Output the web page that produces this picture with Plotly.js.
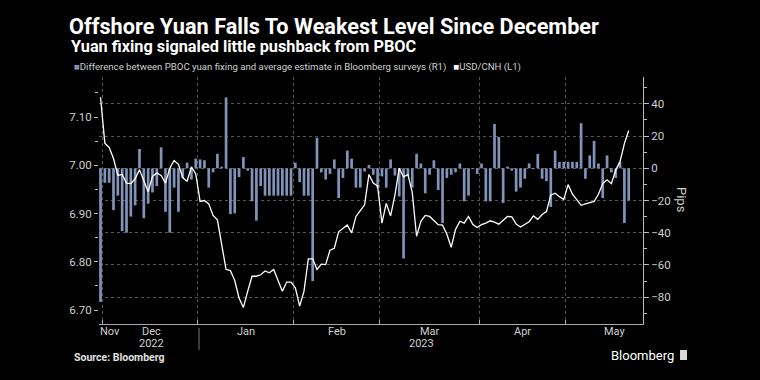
<!DOCTYPE html>
<html><head><meta charset="utf-8">
<script src="https://cdn.plot.ly/plotly-3.0.1.min.js"></script>
<style>html,body{margin:0;padding:0;background:#000;}#chart{width:760px;height:380px;}</style>
</head><body><div id="chart"></div>
<script>
const dates = [
'2022-11-30',
'2022-12-01','2022-12-02','2022-12-05','2022-12-06','2022-12-07','2022-12-08','2022-12-09','2022-12-12','2022-12-13','2022-12-14','2022-12-15','2022-12-16','2022-12-19','2022-12-20','2022-12-21','2022-12-22','2022-12-23','2022-12-26','2022-12-27','2022-12-28','2022-12-29','2022-12-30',
'2023-01-02','2023-01-03','2023-01-04','2023-01-05','2023-01-06','2023-01-09','2023-01-10','2023-01-11','2023-01-12','2023-01-13','2023-01-16','2023-01-17','2023-01-18','2023-01-19','2023-01-20','2023-01-23','2023-01-24','2023-01-25','2023-01-26','2023-01-27','2023-01-30','2023-01-31',
'2023-02-01','2023-02-02','2023-02-03','2023-02-06','2023-02-07','2023-02-08','2023-02-09','2023-02-10','2023-02-13','2023-02-14','2023-02-15','2023-02-16','2023-02-17','2023-02-20','2023-02-21','2023-02-22','2023-02-23','2023-02-24','2023-02-27','2023-02-28',
'2023-03-01','2023-03-02','2023-03-03','2023-03-06','2023-03-07','2023-03-08','2023-03-09','2023-03-10','2023-03-13','2023-03-14','2023-03-15','2023-03-16','2023-03-17','2023-03-20','2023-03-21','2023-03-22','2023-03-23','2023-03-24','2023-03-27','2023-03-28','2023-03-29','2023-03-30','2023-03-31',
'2023-04-03','2023-04-04','2023-04-05','2023-04-06','2023-04-07','2023-04-10','2023-04-11','2023-04-12','2023-04-13','2023-04-14','2023-04-17','2023-04-18','2023-04-19','2023-04-20','2023-04-21','2023-04-24','2023-04-25','2023-04-26','2023-04-27','2023-04-28',
'2023-05-01','2023-05-02','2023-05-03','2023-05-04','2023-05-05','2023-05-08','2023-05-09','2023-05-10','2023-05-11','2023-05-12','2023-05-15','2023-05-16','2023-05-17','2023-05-18','2023-05-19'
];

// Difference between PBOC fixing and survey estimate, pips (right axis)
const fixingDiffPips = [
-83, -9, -9, -26, -17, -39, -40, -30, -23, 12,
-31, -22, -15, -11, 13, -27, -40, -12, -27, -6,
3.5, -7, 6, 5.5, 5, -12, -2.5, 9, 1, 44,
-28.5, -28, -5.5, 7, -1.5, -20.5, -32.5, -11, -17, -17,
-17, -17, -17, -17, -17, 3.5, -8.5, -17, -17, -70,
19, -2.5, -7, -3.5, 5.5, -18.5, -6, 11, 6, -12,
-12, -2, 2, -4, -12, -5, -12, 5.5, -4.5, -17.5,
-56, -5, -12, 9, 3, -15.5, -4, 5, -13.5, -34,
-6, -4, -2.5, 3, -20.5, -17, -0.5, -3.5, 3, -20.5,
-20.5, 27.5, 19.5, -21.5, 1, -1.5, -14.5, -12, -6.5, 3,
-0.5, 9, -6.5, -8, -24, 11, 4, 4, 4, 4,
4, 28, -6.5, 8, 17, 3, -18.5, 8, -2.5, -6,
4, -34, -20
];

// USD/CNH (left axis)
const usdCnh = [
7.141, 7.046, 7.037, 7.014, 6.979, 6.981, 6.963, 6.962, 6.972, 6.991,
6.968, 6.945, 6.977, 6.984, 6.979, 6.963, 6.994, 7.010, 7.002, 6.974,
6.967, 6.997, 6.982, 6.925, 6.927, 6.920, 6.896, 6.887, 6.835, 6.784,
6.782, 6.761, 6.725, 6.705, 6.739, 6.770, 6.770, 6.773, 6.781, 6.777,
6.784, 6.763, 6.739, 6.758, 6.758, 6.746, 6.708, 6.739, 6.806, 6.806,
6.784, 6.795, 6.794, 6.824, 6.828, 6.862, 6.869, 6.876, 6.860, 6.894,
6.906, 6.918, 6.981, 6.963, 6.957, 6.880, 6.921, 6.895, 6.938, 6.994,
6.976, 6.981, 6.944, 6.853, 6.884, 6.896, 6.894, 6.885, 6.877, 6.876,
6.857, 6.830, 6.867, 6.884, 6.880, 6.894, 6.877, 6.871, 6.877, 6.880,
6.885, 6.882, 6.878, 6.886, 6.894, 6.893, 6.878, 6.872, 6.878, 6.883,
6.895, 6.888, 6.898, 6.904, 6.938, 6.942, 6.935, 6.929, 6.960, 6.940,
6.929, 6.917, 6.920, 6.922, 6.925, 6.940, 6.962, 6.970, 6.962, 6.990,
7.008, 7.045, 7.072
];

const monthNames = ['Nov', 'Dec', 'Jan', 'Feb', 'Mar', 'Apr', 'May'];
const yearNames = ['2022', '2023'];
const pipsTicks = [-80, -60, -40, -20, 0, 20, 40];
const cnhTicks = [6.7, 6.8, 6.9, 7.0, 7.1];
const seriesNames = ['Difference between PBOC yuan fixing and average estimate in Bloomberg surveys (R1)', 'USD/CNH (L1)'];
const titleText = 'Offshore Yuan Falls To Weakest Level Since December';
const subtitleText = 'Yuan fixing signaled little pushback from PBOC';
const sourceText = 'Source: Bloomberg';

// ---- layout geometry (pixels) ----
const L = 99, R = 643, T = 77, B = 324;
const px = x => (x - L) / (R - L);
const py = y => (B - y) / (B - T);
const FONT = 'Roboto, "Liberation Sans", sans-serif';
const barColor = '#8094b9';
const txt = '#cfcfcf';

const monthLabelPx = [110, 151, 246, 337, 430, 522, 615];
const yearLabelPx = [151, 421];

const annotations = [];
monthNames.forEach((m, i) => annotations.push({
  xref: 'paper', yref: 'paper', x: px(monthLabelPx[i]), y: py(331), text: m,
  showarrow: false, xanchor: 'center', yanchor: 'middle', font: {family: FONT, size: 11, color: txt}
}));
yearNames.forEach((yv, i) => annotations.push({
  xref: 'paper', yref: 'paper', x: px(yearLabelPx[i]), y: py(343), text: yv,
  showarrow: false, xanchor: 'center', yanchor: 'middle', font: {family: FONT, size: 11, color: txt}
}));
annotations.push({
  xref: 'paper', yref: 'paper', x: px(69), y: py(47), text: '<b>' + subtitleText + '</b>',
  showarrow: false, xanchor: 'left', yanchor: 'middle', font: {family: FONT, size: 16.3, color: '#ffffff'}
});
annotations.push({
  xref: 'paper', yref: 'paper', x: px(72), y: py(67),
  text: '<span style="color:' + barColor + '">■</span>' + seriesNames[0] +
        '   <span style="color:#ffffff">■</span>' + seriesNames[1],
  showarrow: false, xanchor: 'left', yanchor: 'middle', font: {family: FONT, size: 9.6, color: txt}
});
annotations.push({
  xref: 'paper', yref: 'paper', x: px(682), y: py(200), text: 'Pips', textangle: 90,
  showarrow: false, xanchor: 'center', yanchor: 'middle', font: {family: FONT, size: 13, color: txt}
});
annotations.push({
  xref: 'paper', yref: 'paper', x: px(72), y: py(357), text: '<b>' + sourceText + '</b>',
  showarrow: false, xanchor: 'left', yanchor: 'middle', font: {family: FONT, size: 10.5, color: '#e0e0e0'}
});
annotations.push({
  xref: 'paper', yref: 'paper', x: px(676), y: py(355), text: 'Bloomberg',
  showarrow: false, xanchor: 'right', yanchor: 'middle', font: {family: FONT, size: 13, color: '#ffffff'}
});

const shapes = [
  {type: 'line', xref: 'paper', yref: 'paper', x0: px(199), x1: px(199), y0: py(328), y1: py(350),
   line: {color: '#777', width: 1}},
  {type: 'rect', xref: 'paper', yref: 'paper', x0: px(680), x1: px(687), y0: py(350), y1: py(360),
   fillcolor: '#d8d8d8', line: {width: 0}}
];

const traces = [
  {type: 'bar', x: dates, y: fixingDiffPips, yaxis: 'y', name: seriesNames[0],
   marker: {color: barColor, line: {width: 0}}, width: 0.62 * 86400000, hoverinfo: 'skip'},
  {type: 'scatter', mode: 'lines', x: dates, y: usdCnh, yaxis: 'y2', name: seriesNames[1],
   line: {color: '#ffffff', width: 1.3}, hoverinfo: 'skip'}
];

const layout = {
  width: 760, height: 380,
  margin: {l: L, r: 760 - R, t: T, b: 380 - B, pad: 0},
  paper_bgcolor: '#000000', plot_bgcolor: '#000000',
  showlegend: false,
  title: {text: '<b>' + titleText + '</b>', x: 69 / 760, xanchor: 'left', xref: 'container',
          y: 1 - 26 / 380, yanchor: 'middle', yref: 'container',
          font: {family: FONT, size: 21.7, color: '#ffffff'}},
  xaxis: {
    type: 'date', range: ['2022-11-29 15:36', '2023-05-24 07:12'],
    rangebreaks: [{bounds: ['sat', 'mon']}],
    tickmode: 'array',
    tickvals: ['2022-11-30 12:00', '2022-12-30 12:00', '2023-01-31 12:00', '2023-02-28 12:00', '2023-03-31 12:00', '2023-04-28 12:00'],
    showticklabels: false, ticks: 'inside', ticklen: 4, tickcolor: '#aaaaaa',
    showline: true, linecolor: '#aaaaaa', linewidth: 1,
    showgrid: true, gridcolor: '#555555', griddash: 'dot', gridwidth: 1, zeroline: false
  },
  yaxis: {
    side: 'right', range: [-96.7, 56.7], tickmode: 'array', tickvals: pipsTicks,
    ticks: 'outside', ticklen: 5, tickcolor: '#bbbbbb',
    showline: true, linecolor: '#bbbbbb', linewidth: 1,
    showgrid: true, gridcolor: '#555555', griddash: 'dot', gridwidth: 1, zeroline: false,
    tickfont: {family: FONT, size: 11.5, color: txt},
    minor: {dtick: 10, tick0: 0, ticks: 'outside', ticklen: 3, tickcolor: '#bbbbbb', showgrid: false}
  },
  yaxis2: {
    overlaying: 'y', side: 'left', range: [6.671, 7.183], tickmode: 'array', tickvals: cnhTicks,
    tickformat: '.2f', ticks: 'outside', ticklen: 4, tickcolor: '#bbbbbb',
    showline: false, showgrid: false, zeroline: false,
    tickfont: {family: FONT, size: 11.5, color: txt},
    minor: {dtick: 0.05, tick0: 6.7, ticks: 'outside', ticklen: 3, tickcolor: '#bbbbbb', showgrid: false}
  },
  annotations: annotations,
  shapes: shapes
};

Plotly.newPlot('chart', traces, layout, {staticPlot: true, displayModeBar: false});
</script>
</body></html>
